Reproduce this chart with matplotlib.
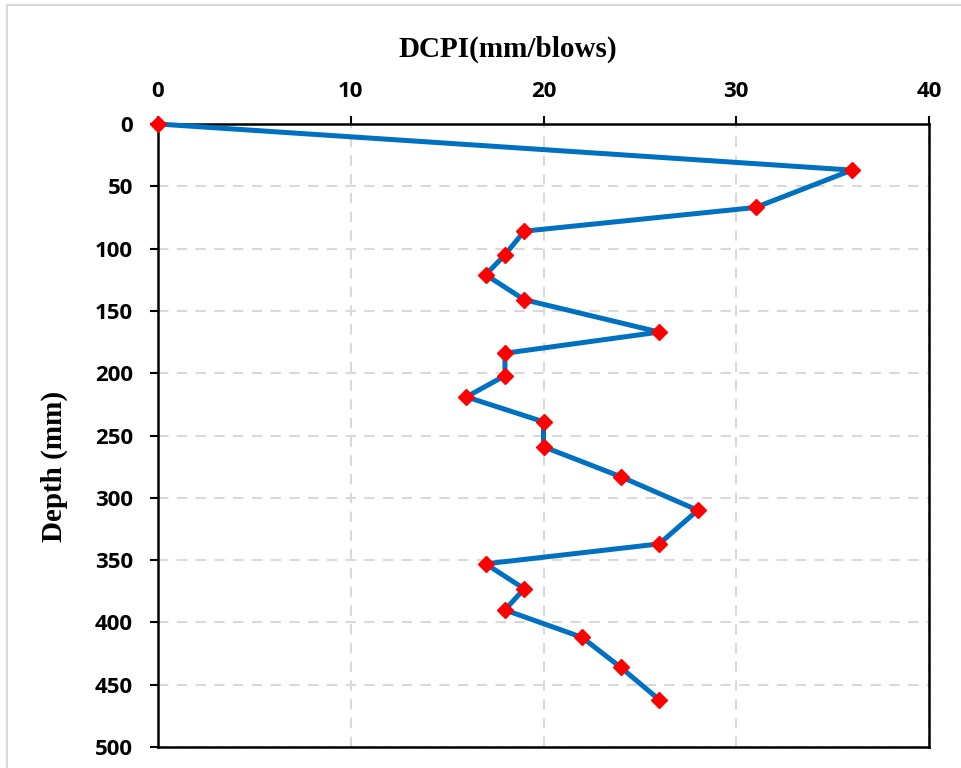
import matplotlib
matplotlib.use("Agg")
import matplotlib.pyplot as plt
from matplotlib.patches import Rectangle

# DCP test results: penetration index vs depth
dcpi = [0, 36, 31, 19, 18, 17, 19, 26, 18, 18, 16, 20, 20, 24, 28, 26, 17, 19, 18, 22, 24, 26]
depth = [0, 37, 67, 86, 105, 121, 141, 167, 184, 202, 219, 239, 259, 283, 310, 337, 353, 373, 390, 412, 436, 462]

x_ticks = [0, 10, 20, 30, 40]
y_ticks = [0, 50, 100, 150, 200, 250, 300, 350, 400, 450, 500]

W, H = 962, 768
fig = plt.figure(figsize=(W / 100, H / 100), dpi=100)
fig.patch.set_facecolor("white")

# outer chart-area border
fig.patches.append(Rectangle((7 / W, -0.01), 1.0, 1 - 5 / H + 0.01, transform=fig.transFigure,
                             fill=False, edgecolor="#D9D9D9", linewidth=1.5))

ax_l, ax_r, ax_t, ax_b = 158, 929, 124, 747
ax = fig.add_axes([ax_l / W, 1 - ax_b / H, (ax_r - ax_l) / W, (ax_b - ax_t) / H])

ax.plot(dcpi, depth, color="#0070C0", linewidth=3.6, marker="D", markersize=8.5,
        markerfacecolor="#FF0000", markeredgecolor="#FF0000", zorder=3, clip_on=False)

ax.set_xlim(0, 40)
ax.set_ylim(500, 0)
ax.set_xticks(x_ticks)
ax.set_yticks(y_ticks)
ax.xaxis.tick_top()
ax.xaxis.set_label_position("top")

tick_font = dict(family="Open Sans", weight="bold", size=16)
ax.set_xticklabels([str(v) for v in x_ticks], **tick_font)
ax.set_yticklabels([str(v) for v in y_ticks], **tick_font)
ax.tick_params(axis="both", direction="out", length=6, width=1.5, color="black")
ax.tick_params(axis="y", pad=12)
ax.tick_params(axis="x", pad=10)

for s in ax.spines.values():
    s.set_linewidth(1.8)
    s.set_color("black")

ax.grid(True, color="#D9D9D9", linestyle=(0, (5, 4)), linewidth=1.5)
ax.set_axisbelow(True)

label_font = dict(family="Liberation Serif", weight="bold", size=21)
ax.set_xlabel("DCPI(mm/blows)", va="center", ha="center", **label_font)
ax.set_ylabel("Depth (mm)", va="center", ha="center", **label_font)
aw, ah = ax_r - ax_l, ax_b - ax_t
ax.xaxis.set_label_coords((508 - ax_l) / aw, (ax_b - 49) / ah)
ax.yaxis.set_label_coords((54 - ax_l) / aw, (ax_b - 466) / ah)

fig.savefig("out.png", dpi=100, facecolor="white")
